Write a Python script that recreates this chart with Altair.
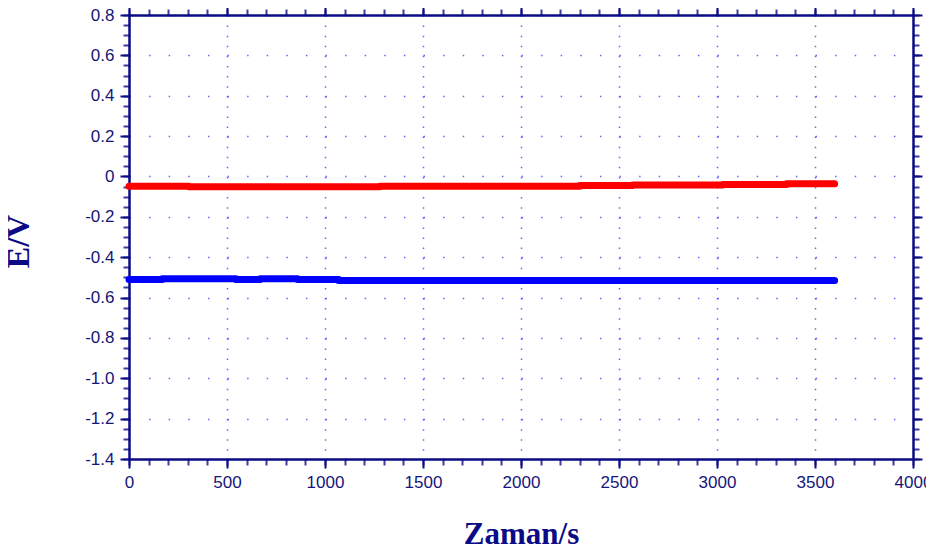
import altair as alt
import pandas as pd

# Red series (step changes)
red_t = [0, 305, 1280, 2300, 2570, 3030, 3355, 3600]
red_v = [-0.048, -0.051, -0.048, -0.045, -0.042, -0.040, -0.036, -0.036]

# Blue series
blue_t = [0, 170, 545, 670, 860, 1070, 3600]
blue_v = [-0.511, -0.507, -0.511, -0.507, -0.511, -0.516, -0.516]

x_major = [0, 500, 1000, 1500, 2000, 2500, 3000, 3500, 4000]
x_minor = list(range(0, 4001, 100))
y_major = [0.8, 0.6, 0.4, 0.2, 0, -0.2, -0.4, -0.6, -0.8, -1.0, -1.2, -1.4]
y_minor = [round(-1.4 + 0.05 * i, 2) for i in range(45)]

red_df = pd.DataFrame({"t": red_t, "v": red_v})
blue_df = pd.DataFrame({"t": blue_t, "v": blue_v})

NAVY = "#0b0b86"
LBL = "#15157a"
GRID = "#4a4aff"

xs = alt.Scale(domain=[0, 4000], nice=False, zero=False)
ys = alt.Scale(domain=[-1.4, 0.8], nice=False, zero=False)

ylab = "datum.value == 0 ? '0' : (datum.value < 0 ? '-' : '') + format(abs(datum.value), '.1f')"

common = dict(domainColor=NAVY, domainWidth=2.5, tickColor=NAVY, tickWidth=2)

# Layer 1: red line, bottom/left major axes with labels and grid
red = alt.Chart(red_df).mark_line(
    interpolate="step-after", strokeWidth=7, strokeCap="round", strokeJoin="round", color="#ff0000"
).encode(
    x=alt.X("t:Q", scale=xs, axis=alt.Axis(
        orient="bottom", values=x_major, tickSize=9, labelFont="Liberation Sans",
        labelFontSize=17, labelColor=LBL, labelPadding=6, labelFlush=False,
        labelOverlap=False, format="d",
        title="Zaman/s", titleFont="Liberation Serif", titleFontSize=31,
        titleFontWeight="bold", titleColor=NAVY, titleY=84, titleBaseline="alphabetic",
        grid=True, gridDash=[1.5, 8.59], gridColor=GRID, gridWidth=1.5, gridOpacity=0.85,
        **common)),
    y=alt.Y("v:Q", scale=ys, axis=alt.Axis(
        orient="left", values=y_major, tickSize=9, labelFont="Liberation Sans",
        labelFontSize=17, labelColor=LBL, labelPadding=6, labelFlush=False,
        labelOverlap=False, labelExpr=ylab,
        title="E/V", titleFont="Liberation Serif", titleFontSize=32,
        titleFontWeight="bold", titleColor=NAVY, titleX=-101, titleY=226,
        titleAlign="center", titleBaseline="alphabetic", titleAngle=270,
        grid=True, gridDash=[1.5, 18.1], gridColor=GRID, gridWidth=1.5, gridOpacity=0.85,
        **common)),
)

# Layer 2: blue line, bottom/left minor ticks
blue = alt.Chart(blue_df).mark_line(
    interpolate="step-after", strokeWidth=7, strokeCap="round", strokeJoin="round", color="#0000ff"
).encode(
    x=alt.X("t:Q", scale=xs, axis=alt.Axis(
        orient="bottom", values=x_minor, tickSize=6, labels=False, grid=False,
        domain=False, title="", tickColor=NAVY, tickWidth=2, tickOpacity=0.8)),
    y=alt.Y("v:Q", scale=ys, axis=alt.Axis(
        orient="left", values=y_minor, tickSize=6, labels=False, grid=False,
        domain=False, title="", tickColor=NAVY, tickWidth=2, tickOpacity=0.8)),
)

# Layer 3: top/right major ticks and frame
frame_major = alt.Chart(red_df).mark_point(opacity=0).encode(
    x=alt.X("t:Q", scale=xs, axis=alt.Axis(
        orient="top", values=x_major, tickSize=9, labels=False, grid=False,
        title="", **common)),
    y=alt.Y("v:Q", scale=ys, axis=alt.Axis(
        orient="right", values=y_major, tickSize=9, labels=False, grid=False,
        title="", **common)),
)

# Layer 4: top/right minor ticks
frame_minor = alt.Chart(red_df).mark_point(opacity=0).encode(
    x=alt.X("t:Q", scale=xs, axis=alt.Axis(
        orient="top", values=x_minor, tickSize=6, labels=False, grid=False,
        domain=False, title="", tickColor=NAVY, tickWidth=2, tickOpacity=0.8)),
    y=alt.Y("v:Q", scale=ys, axis=alt.Axis(
        orient="right", values=y_minor, tickSize=6, labels=False, grid=False,
        domain=False, title="", tickColor=NAVY, tickWidth=2, tickOpacity=0.8)),
)

chart = alt.layer(red, blue, frame_major, frame_minor).resolve_scale(
    x="shared", y="shared"
).resolve_axis(
    x="independent", y="independent"
).properties(
    width=784, height=444,
    autosize=alt.AutoSizeParams(type="none"),
    padding={"left": 121, "top": 7, "right": 13, "bottom": 85},
).configure_view(stroke=None).configure(background="white")

chart.save("out.html", embed_options={"renderer": "svg", "actions": False})
